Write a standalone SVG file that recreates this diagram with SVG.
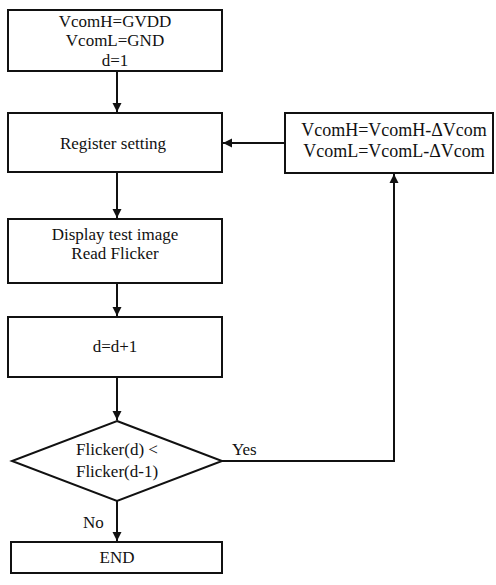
<svg xmlns="http://www.w3.org/2000/svg" width="496" height="585" viewBox="0 0 496 585">
<style>
.box{fill:#fff;stroke:#111;stroke-width:2}
.t{font-family:"Liberation Serif","Times New Roman",serif;font-size:17px;fill:#111;text-anchor:middle}
.l{font-family:"Liberation Serif","Times New Roman",serif;font-size:17px;fill:#111}
.c{fill:none;stroke:#111;stroke-width:2}
</style>
<defs>
<marker id="ah" markerWidth="10" markerHeight="10" refX="9" refY="5" orient="auto" markerUnits="userSpaceOnUse">
<path d="M0,0.5 L9,5 L0,9.5 Z" fill="#111"/>
</marker>
</defs>
<rect width="496" height="585" fill="#fff"/>
<g id="connectors">
<line class="c" x1="117" y1="71" x2="117" y2="112" marker-end="url(#ah)"/>
<line class="c" x1="285" y1="143" x2="223" y2="143" marker-end="url(#ah)"/>
<line class="c" x1="117" y1="172" x2="117" y2="218" marker-end="url(#ah)"/>
<line class="c" x1="117" y1="283" x2="117" y2="316" marker-end="url(#ah)"/>
<line class="c" x1="117" y1="377" x2="117" y2="420" marker-end="url(#ah)"/>
<polyline class="c" points="222,461 394,461 394,174" marker-end="url(#ah)"/>
<line class="c" x1="117" y1="501" x2="117" y2="541" marker-end="url(#ah)"/>
<text class="l" x="232" y="455">Yes</text>
<text class="l" x="83" y="528">No</text>
</g>
<g id="init">
<rect class="box" x="8" y="10" width="214" height="61"/>
<text class="t" x="115" y="27">VcomH=GVDD</text>
<text class="t" x="115" y="46">VcomL=GND</text>
<text class="t" x="115" y="66">d=1</text>
</g>
<g id="register">
<rect class="box" x="8" y="113" width="214" height="59"/>
<text class="t" x="113" y="149">Register setting</text>
</g>
<g id="update">
<rect class="box" x="285" y="113" width="208" height="60"/>
<text class="t" x="394" y="136" style="font-size:18px">VcomH=VcomH-ΔVcom</text>
<text class="t" x="394" y="157" style="font-size:18px">VcomL=VcomL-ΔVcom</text>
</g>
<g id="display">
<rect class="box" x="8" y="219" width="214" height="64"/>
<text class="t" x="115" y="240">Display test image</text>
<text class="t" x="115" y="259">Read Flicker</text>
</g>
<g id="increment">
<rect class="box" x="8" y="317" width="214" height="60"/>
<text class="t" x="115" y="352">d=d+1</text>
</g>
<g id="decision">
<polygon class="box" points="117,421 222,461 117,501 12,461"/>
<text class="t" x="117" y="455">Flicker(d) &lt;</text>
<text class="t" x="117" y="477">Flicker(d-1)</text>
</g>
<g id="end">
<rect class="box" x="11" y="542" width="211" height="31"/>
<text class="t" x="117" y="563">END</text>
</g>
</svg>
